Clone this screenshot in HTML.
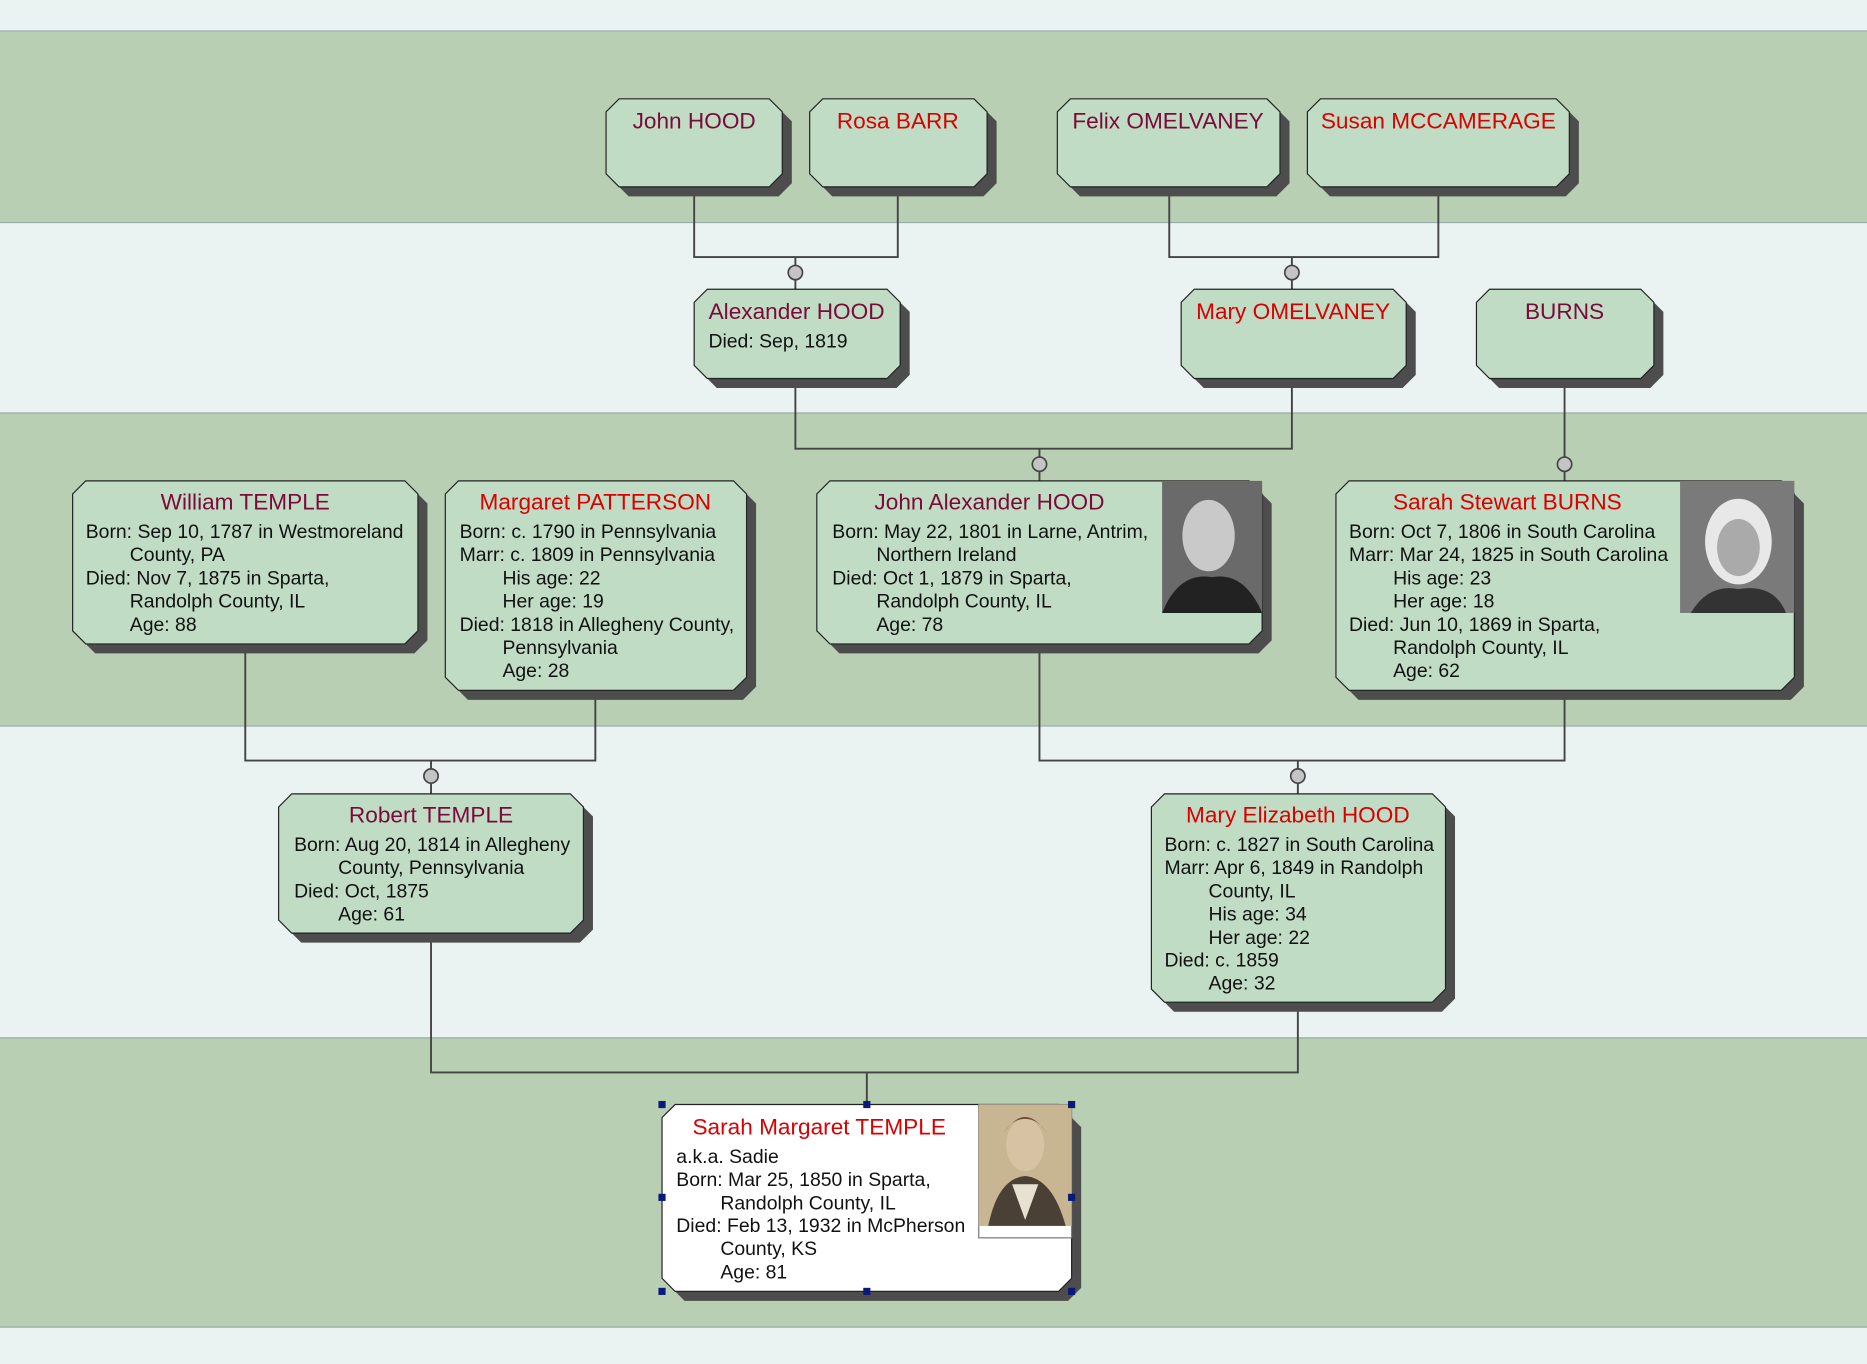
<!DOCTYPE html>
<html><head><meta charset="utf-8"><style>
html,body{margin:0;padding:0;background:#eaf3f2;}
svg{display:block}
text{font-family:"Liberation Sans",Arial,sans-serif;}
.n{font-size:19px;text-anchor:middle}
.m{fill:#7a0a3a}.f{fill:#d80000}
.b{font-size:16.3px;fill:#111}
.ln{stroke:#444;stroke-width:1.6;fill:none}
.c{fill:#c4c4c4;stroke:#444;stroke-width:1.4}
.h{fill:#0a1a7a}
</style></head><body>
<svg width="1867" height="1364" viewBox="0 0 1568 1146" preserveAspectRatio="none" xmlns="http://www.w3.org/2000/svg">
<rect x="0" y="0" width="1568" height="1146" fill="#eaf3f2"/>
<rect x="0" y="26" width="1568" height="161" fill="#b9cfb3"/>
<rect x="0" y="347" width="1568" height="263" fill="#b9cfb3"/>
<rect x="0" y="872" width="1568" height="243" fill="#b9cfb3"/>
<g stroke="#9aa" stroke-width="1"><line x1="0" y1="26" x2="1568" y2="26"/><line x1="0" y1="187" x2="1568" y2="187"/><line x1="0" y1="347" x2="1568" y2="347"/><line x1="0" y1="610" x2="1568" y2="610"/><line x1="0" y1="872" x2="1568" y2="872"/><line x1="0" y1="1115" x2="1568" y2="1115"/></g>

<path class="ln" d="M583 157V216H754V157M668 216V243"/>
<path class="ln" d="M982 157V216H1208V157M1085 216V243"/>
<path class="ln" d="M668 318V377H1085V318M873 377V404"/>
<path class="ln" d="M1314 318V404"/>
<path class="ln" d="M206 541V639H500V580M362 639V667"/>
<path class="ln" d="M873 541V639H1314V580M1090 639V667"/>
<path class="ln" d="M362 784V901H1090V842M728 901V928"/>
<circle class="c" cx="668" cy="229" r="6"/><circle class="c" cx="1085" cy="229" r="6"/>
<circle class="c" cx="873" cy="390" r="6"/><circle class="c" cx="1314" cy="390" r="6"/>
<circle class="c" cx="362" cy="652" r="6"/><circle class="c" cx="1090" cy="652" r="6"/>

<g id="boxes"></g>
<script>
const boxes=[
[509,83,148,74,'#c0dcc4'],[680,83,149,74,'#c0dcc4'],[888,83,187,74,'#c0dcc4'],[1098,83,220,74,'#c0dcc4'],
[583,243,173,75,'#c0dcc4'],[992,243,189,75,'#c0dcc4'],[1240,243,149,75,'#c0dcc4'],
[61,404,290,137,'#c0dcc4'],[374,404,253,176,'#c0dcc4'],[686,404,374,137,'#c0dcc4'],[1122,404,385,176,'#c0dcc4'],
[234,667,256,117,'#c0dcc4'],[967,667,247,175,'#c0dcc4'],[556,928,344,157,'#ffffff']];
const g=document.getElementById('boxes');const NS='http://www.w3.org/2000/svg';
function poly(x,y,w,h){const k=11;return `${x+k},${y} ${x+w-k},${y} ${x+w},${y+k} ${x+w},${y+h-k} ${x+w-k},${y+h} ${x+k},${y+h} ${x},${y+h-k} ${x},${y+k}`;}
for(const [x,y,w,h,c] of boxes){
 const s=document.createElementNS(NS,'polygon');s.setAttribute('points',poly(x+8,y+8,w,h));s.setAttribute('fill','#4d4d4d');g.appendChild(s);
 const p=document.createElementNS(NS,'polygon');p.setAttribute('points',poly(x,y,w,h));p.setAttribute('fill',c);p.setAttribute('stroke','#222');p.setAttribute('stroke-width','1');g.appendChild(p);
}
</script>

<rect x="976" y="404" width="84" height="111" fill="#6a6a6a"/>
<ellipse cx="1015" cy="450" rx="22" ry="30" fill="#c9c9c9"/><path d="M976 515 Q990 480 1018 485 Q1045 480 1060 515Z" fill="#222"/>
<rect x="1411" y="404" width="96" height="111" fill="#7a7a7a"/>
<ellipse cx="1460" cy="455" rx="28" ry="36" fill="#e8e8e8"/><ellipse cx="1460" cy="460" rx="18" ry="24" fill="#aaa"/><path d="M1420 515 Q1435 490 1460 495 Q1490 490 1500 515Z" fill="#333"/>
<rect x="822" y="928" width="78" height="112" fill="#fff" stroke="#777" stroke-width="1"/>
<rect x="822" y="928" width="78" height="102" fill="#c8b592"/>
<ellipse cx="861" cy="962" rx="16" ry="22" fill="#d8c2a4"/><path d="M843 952 Q861 925 879 952 Q872 940 861 940 Q850 940 843 952Z" fill="#6b4a30"/>
<path d="M830 1030 Q838 990 861 988 Q884 990 895 1030Z" fill="#4a4036"/><path d="M850 995 L861 1025 L872 995Z" fill="#e8e0d0"/>

<g class="h"><rect x="553" y="925" width="6" height="6"/><rect x="725" y="925" width="6" height="6"/><rect x="897" y="925" width="6" height="6"/><rect x="553" y="1003" width="6" height="6"/><rect x="897" y="1003" width="6" height="6"/><rect x="553" y="1082" width="6" height="6"/><rect x="725" y="1082" width="6" height="6"/><rect x="897" y="1082" width="6" height="6"/></g>

<text class="n m" x="583" y="108">John HOOD</text>
<text class="n f" x="754" y="108">Rosa BARR</text>
<text class="n m" x="981" y="108">Felix OMELVANEY</text>
<text class="n f" x="1208" y="108">Susan MCCAMERAGE</text>
<text class="n m" x="669" y="268">Alexander HOOD</text>
<text class="b" x="595" y="292">Died: Sep, 1819</text>
<text class="n f" x="1086" y="268">Mary OMELVANEY</text>
<text class="n m" x="1314" y="268">BURNS</text>

<text class="n m" x="206" y="428">William TEMPLE</text>
<g class="b"><text x="72" y="452">Born: Sep 10, 1787 in Westmoreland</text><text x="109" y="471.5">County, PA</text><text x="72" y="491">Died: Nov 7, 1875 in Sparta,</text><text x="109" y="510.5">Randolph County, IL</text><text x="109" y="530">Age: 88</text></g>

<text class="n f" x="500" y="428">Margaret PATTERSON</text>
<g class="b"><text x="386" y="452">Born: c. 1790 in Pennsylvania</text><text x="386" y="471.5">Marr: c. 1809 in Pennsylvania</text><text x="422" y="491">His age: 22</text><text x="422" y="510.5">Her age: 19</text><text x="386" y="530">Died: 1818 in Allegheny County,</text><text x="422" y="549.5">Pennsylvania</text><text x="422" y="569">Age: 28</text></g>

<text class="n m" x="831" y="428">John Alexander HOOD</text>
<g class="b"><text x="699" y="452">Born: May 22, 1801 in Larne, Antrim,</text><text x="736" y="471.5">Northern Ireland</text><text x="699" y="491">Died: Oct 1, 1879 in Sparta,</text><text x="736" y="510.5">Randolph County, IL</text><text x="736" y="530">Age: 78</text></g>

<text class="n f" x="1266" y="428">Sarah Stewart BURNS</text>
<g class="b"><text x="1133" y="452">Born: Oct 7, 1806 in South Carolina</text><text x="1133" y="471.5">Marr: Mar 24, 1825 in South Carolina</text><text x="1170" y="491">His age: 23</text><text x="1170" y="510.5">Her age: 18</text><text x="1133" y="530">Died: Jun 10, 1869 in Sparta,</text><text x="1170" y="549.5">Randolph County, IL</text><text x="1170" y="569">Age: 62</text></g>

<text class="n m" x="362" y="691">Robert TEMPLE</text>
<g class="b"><text x="247" y="715">Born: Aug 20, 1814 in Allegheny</text><text x="284" y="734.5">County, Pennsylvania</text><text x="247" y="754">Died: Oct, 1875</text><text x="284" y="773.5">Age: 61</text></g>

<text class="n f" x="1090" y="691">Mary Elizabeth HOOD</text>
<g class="b"><text x="978" y="715">Born: c. 1827 in South Carolina</text><text x="978" y="734.5">Marr: Apr 6, 1849 in Randolph</text><text x="1015" y="754">County, IL</text><text x="1015" y="773.5">His age: 34</text><text x="1015" y="793">Her age: 22</text><text x="978" y="812">Died: c. 1859</text><text x="1015" y="831.5">Age: 32</text></g>

<text class="n f" x="688" y="953">Sarah Margaret TEMPLE</text>
<g class="b"><text x="568" y="977">a.k.a. Sadie</text><text x="568" y="996.5">Born: Mar 25, 1850 in Sparta,</text><text x="605" y="1016">Randolph County, IL</text><text x="568" y="1035">Died: Feb 13, 1932 in McPherson</text><text x="605" y="1054.5">County, KS</text><text x="605" y="1074">Age: 81</text></g>
</svg>
</body></html>
